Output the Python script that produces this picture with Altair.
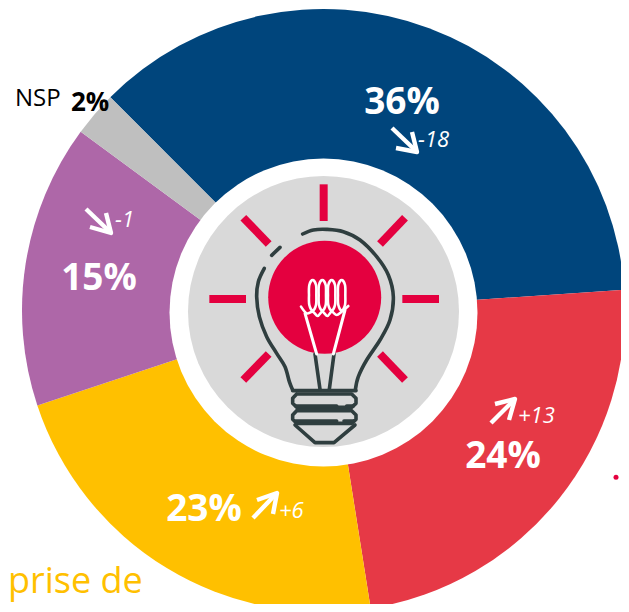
import math
import altair as alt
import pandas as pd

# Donut slices (clockwise from the upper left)
categories = ["Bleu", "Rouge", "Jaune", "Violet", "NSP"]
shares = [36.4, 23.6, 22.4, 15.2, 2.4]
slice_colors = ["#00457C", "#E63946", "#FFC000", "#AE67A8", "#BFBFBF"]

# Labels
big_text = ["36%", "24%", "23%", "15%"]
big_x = [402, 503, 204, 99]
big_y = [114, 468, 520.5, 290]
delta_text = ["-18", "+13", "+6", "-1"]
delta_x = [418, 518, 279, 115]
delta_y = [147, 423, 518, 227]

# Arrows: shaft start, tip, head ends
arrow_sx = [392, 491, 253, 86]
arrow_sy = [128, 423, 518, 209]
arrow_tx = [417, 515, 277, 111]
arrow_ty = [152, 399, 493, 233]
head_ax = [412, 495, 257, 106]
head_ay = [132, 404, 500, 213]
head_bx = [396, 509, 273, 90]
head_by = [148, 420, 514, 227]

# Discs: centre x, centre y, diameter, colour
disc_x = [323.5, 323.5, 324.7, 616.0]
disc_y = [312.5, 311.5, 297.3, 477.3]
disc_d = [308, 271, 113, 5]
disc_c = ["#FFFFFF", "#D9D9D9", "#E4003F", "#E4003F"]

# Bulb rays, in 3x crop units relative to the icon crop
rays = [
    [(461, 103), (461, 213)], [(705, 203), (630, 282)], [(697, 447), (807, 447)],
    [(630, 612), (705, 690)], [(296, 612), (220, 690)], [(118, 447), (228, 447)],
    [(220, 203), (296, 282)],
]
glass_curves = [
    [(398, 252), (430, 240), (470, 238), (520, 245), (570, 270), (620, 320), (655, 375),
     (670, 440), (660, 510), (630, 570), (590, 630), (565, 680), (556, 720)],
    [(283, 355), (265, 395), (260, 440), (268, 500), (290, 560), (320, 610), (345, 650),
     (358, 695), (368, 720)],
]
base_lines = [
    [(305, 316), (330, 292)],
    [(368, 722), (558, 722)],
    [(380, 732), (545, 732), (558, 745), (558, 760), (545, 772), (380, 772), (368, 760), (368, 745), (380, 732)],
    [(380, 782), (545, 782), (558, 795), (558, 808), (545, 820), (380, 820), (368, 808), (368, 795), (380, 782)],
    [(378, 768), (500, 768)], [(530, 768), (550, 768)],
    [(378, 813), (500, 813)], [(522, 813), (552, 813)],
    [(375, 825), (435, 878), (492, 878), (555, 825)],
    [(435, 612), (450, 718)], [(492, 612), (478, 718)],
]
wire_straight = [[(405, 490), (440, 612)], [(525, 480), (490, 612)]]
# Coil in 3x crop units of the filament crop
coil_curves = [
    [(57, 75), (58, 45), (68, 30), (78, 45), (79, 75), (78, 105), (68, 122), (58, 105), (57, 75)],
    [(86, 75), (87, 45), (97, 30), (107, 45), (108, 75), (107, 105), (97, 122), (87, 105), (86, 75)],
    [(114, 75), (115, 45), (125, 30), (135, 45), (136, 75), (135, 105), (125, 122), (115, 105), (114, 75)],
    [(144, 75), (145, 45), (155, 30), (165, 45), (166, 75), (165, 105), (155, 122), (145, 105), (144, 75)],
    [(33, 110), (50, 130), (68, 125), (83, 138), (97, 125), (112, 138), (125, 125), (140, 135), (155, 125), (175, 108)],
]


def icon(strokes, ox=170, oy=150):
    rows = []
    for g, s in enumerate(strokes):
        for i, (a, b) in enumerate(s):
            rows.append({"g": g, "i": i, "x": ox + a / 3, "y": oy + b / 3})
    return pd.DataFrame(rows)


X = alt.Scale(domain=[8, 621], nice=False, zero=False)
Y = alt.Scale(domain=[8, 604], reverse=True, nice=False, zero=False)
ax = alt.X("x:Q", scale=X, axis=None)
ay = alt.Y("y:Q", scale=Y, axis=None)

donut = alt.Chart(pd.DataFrame({
    "c": categories, "v": shares, "k": list(range(len(shares))), "col": slice_colors,
})).mark_arc(outerRadius=301.5, innerRadius=0, strokeWidth=0).encode(
    theta=alt.Theta("v:Q", stack=True, scale=alt.Scale(domain=[0, 100], range=[-math.pi / 4, 7 * math.pi / 4])),
    order=alt.Order("k:Q"),
    color=alt.Color("col:N", scale=None, legend=None),
    x=alt.value(315.5),
    y=alt.value(302.5),
)

discs = alt.Chart(pd.DataFrame({
    "x": disc_x, "y": disc_y, "s": [d * d for d in disc_d], "col": disc_c,
    "k": list(range(len(disc_x))),
})).mark_circle(opacity=1).encode(
    x=ax, y=ay,
    size=alt.Size("s:Q", scale=None, legend=None),
    color=alt.Color("col:N", scale=None, legend=None),
    order=alt.Order("k:Q"),
)


def strokes(df, color, width, interp="linear", cap="butt"):
    return alt.Chart(df).mark_line(
        color=color, strokeWidth=width, interpolate=interp, strokeCap=cap, strokeJoin="round", clip=False
    ).encode(x=ax, y=ay, detail="g:N", order=alt.Order("i:Q"))


arrow_rows = []
for n in range(len(arrow_sx)):
    arrow_rows += [
        {"g": 2 * n, "i": 0, "x": arrow_sx[n], "y": arrow_sy[n]},
        {"g": 2 * n, "i": 1, "x": arrow_tx[n] - 2, "y": arrow_ty[n] - (2 if arrow_ty[n] > arrow_sy[n] else -2)},
        {"g": 2 * n + 1, "i": 0, "x": head_ax[n], "y": head_ay[n]},
        {"g": 2 * n + 1, "i": 1, "x": arrow_tx[n], "y": arrow_ty[n]},
        {"g": 2 * n + 1, "i": 2, "x": head_bx[n], "y": head_by[n]},
    ]
arrows = strokes(pd.DataFrame(arrow_rows), "#FFFFFF", 4.4)


def text(df, **kw):
    return alt.Chart(df).mark_text(font="Open Sans", baseline="alphabetic", **kw).encode(
        x=ax, y=ay, text="t:N"
    )


big = text(pd.DataFrame({"x": big_x, "y": big_y, "t": big_text}),
           fontSize=37, fontWeight="bold", color="#FFFFFF", align="center")
deltas = text(pd.DataFrame({"x": delta_x, "y": delta_y, "t": delta_text}),
              fontSize=22, fontStyle="italic", color="#FFFFFF", align="left")
nsp = text(pd.DataFrame({"x": [15], "y": [105.5], "t": ["NSP"]}),
           fontSize=24, color="#000000", align="left")
nsp_val = text(pd.DataFrame({"x": [71], "y": [110.5], "t": ["2%"]}),
               fontSize=26, fontWeight="bold", color="#000000", align="left")
footer = text(pd.DataFrame({"x": [8], "y": [593], "t": ["prise de"]}),
              fontSize=36, color="#FFC000", align="left")

chart = alt.layer(
    donut,
    discs,
    strokes(icon(rays), "#E4003F", 8),
    strokes(icon(glass_curves), "#2F3E3F", 3.6, "cardinal", "round"),
    strokes(icon(base_lines), "#2F3E3F", 3.6, "linear", "round"),
    strokes(icon(wire_straight), "#FFFFFF", 3, "linear", "round"),
    strokes(icon(coil_curves, 290, 270), "#FFFFFF", 2.6, "cardinal", "round"),
    arrows, big, deltas, nsp, nsp_val, footer,
).properties(
    width=613, height=596, padding=0, background="#FFFFFF",
    autosize=alt.AutoSizeParams(type="none"),
).configure_view(stroke=None)

chart.save("out.html", embed_options={"renderer": "svg", "actions": False})
